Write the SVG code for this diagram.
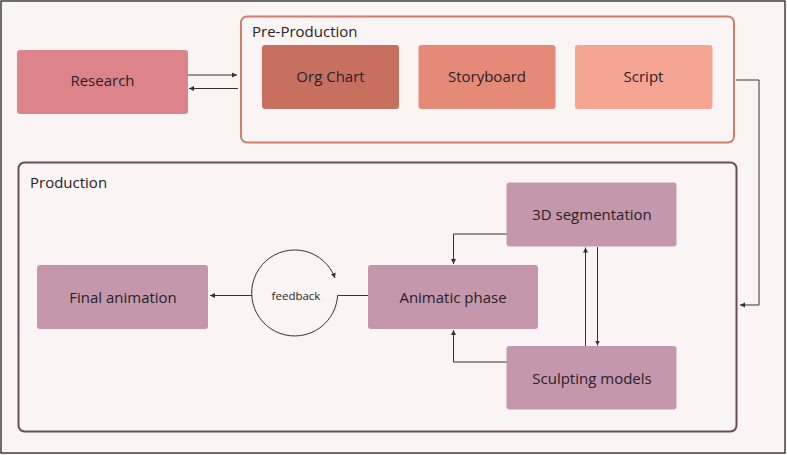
<svg xmlns="http://www.w3.org/2000/svg" width="787" height="455" viewBox="0 0 787 455">
<defs>
<style>
.t{font-family:"Open Sans","Noto Sans","DejaVu Sans",sans-serif;fill:#2a2226;text-anchor:middle;dominant-baseline:central}
.n{font-size:15px}
.g{font-size:15px;text-anchor:start;dominant-baseline:auto}
.c{fill:none;stroke:#333;stroke-width:1}
.p{fill:#c497ac}
</style>
<marker id="ah" markerWidth="6" markerHeight="6" refX="5" refY="3" orient="auto" markerUnits="userSpaceOnUse">
<path d="M0,0.5 L5,3 L0,5.5 Z" fill="#333"/>
</marker>
</defs>
<rect x="0" y="0" width="787" height="455" fill="#faf4f4"/>
<rect x="1" y="1" width="784" height="452" fill="none" stroke="#111" stroke-width="1.2"/>

<g id="pre-production">
<rect x="241" y="16.5" width="493" height="126" rx="6" fill="#faf4f4" stroke="#d27d6c" stroke-width="2"/>
<text class="t g" x="252" y="37">Pre-Production</text>
</g>
<g id="production">
<rect x="18.5" y="162.5" width="718" height="269" rx="6" fill="#faf4f4" stroke="#6d4a5a" stroke-width="2"/>
<text class="t g" x="30" y="187.5">Production</text>
</g>

<g id="research">
<rect x="17" y="50" width="171" height="64" rx="3" fill="#dc848a"/>
<text class="t n" x="102.5" y="80">Research</text>
</g>
<g id="org-chart">
<rect x="262" y="45" width="137" height="64" rx="3" fill="#c87060"/>
<text class="t n" x="330.5" y="76">Org Chart</text>
</g>
<g id="storyboard">
<rect x="418.5" y="45" width="137" height="64" rx="3" fill="#e58a76"/>
<text class="t n" x="487" y="76">Storyboard</text>
</g>
<g id="script">
<rect x="575" y="45" width="137.5" height="64" rx="3" fill="#f5a592"/>
<text class="t n" x="643.5" y="76">Script</text>
</g>

<g id="final-animation">
<rect class="p" x="37" y="265" width="171" height="64" rx="3"/>
<text class="t n" x="123" y="296.5">Final animation</text>
</g>
<g id="feedback">
<path class="c" d="M337.5,297 A43,43 0 1 1 335,278" marker-end="url(#ah)"/>
<text class="t" style="font-size:11.5px" x="296" y="295.5">feedback</text>
</g>
<g id="animatic-phase">
<rect class="p" x="368" y="265" width="170" height="64" rx="3"/>
<text class="t n" x="453" y="296.5">Animatic phase</text>
</g>
<g id="segmentation">
<rect class="p" x="506.5" y="182.5" width="170" height="64" rx="3"/>
<text class="t n" x="592" y="213.5">3D segmentation</text>
</g>
<g id="sculpting">
<rect class="p" x="506.5" y="346" width="170" height="63.5" rx="3"/>
<text class="t n" x="592" y="377.5">Sculpting models</text>
</g>

<g id="connectors">
<path class="c" d="M188,75 H237" marker-end="url(#ah)"/>
<path class="c" d="M238,88.5 H189" marker-end="url(#ah)"/>
<path class="c" d="M736,80 H759 V305 H740" marker-end="url(#ah)"/>
<path class="c" d="M368,295.5 H337.5 V297"/>
<path class="c" d="M252,295.5 H210" marker-end="url(#ah)"/>
<path class="c" d="M506.5,234 H453.5 V264" marker-end="url(#ah)"/>
<path class="c" d="M506.5,362 H453.5 V330" marker-end="url(#ah)"/>
<path class="c" d="M585.5,346 V247.5" marker-end="url(#ah)"/>
<path class="c" d="M597.5,247 V345.5" marker-end="url(#ah)"/>
</g>
</svg>
